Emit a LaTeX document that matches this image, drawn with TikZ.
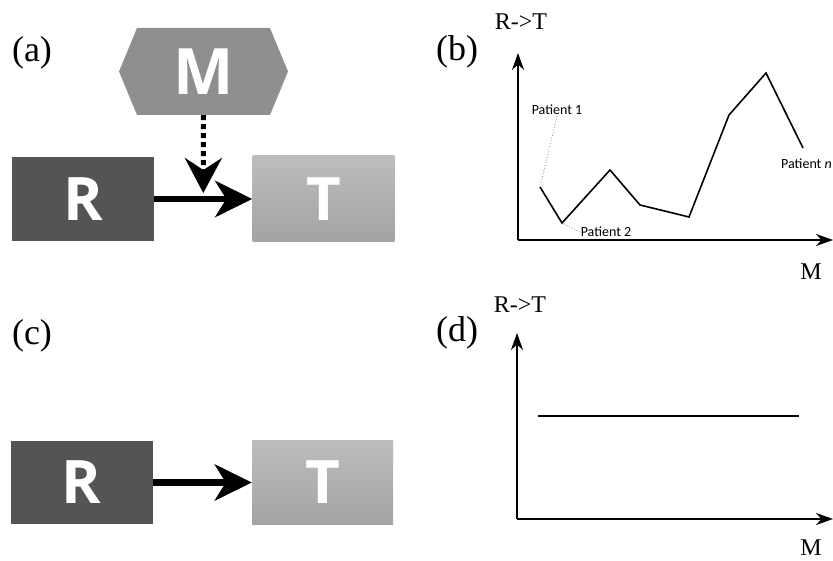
\documentclass[tikz,border=0pt]{standalone}
\usepackage{fontspec}
\setmainfont{Liberation Serif}
\newfontfamily\boxfont{Open Sans}
\newfontfamily\notefont{Carlito}
\usetikzlibrary{calc}
\usetikzlibrary{arrows.meta}
\usetikzlibrary{shapes.symbols}
\usetikzlibrary{positioning}

\definecolor{rdark}{gray}{0.33}
\definecolor{mmid}{gray}{0.56}
\definecolor{tlight}{gray}{0.74}
\definecolor{tdark}{gray}{0.64}

\tikzset{
    box/.style={minimum width=142pt, minimum height=84pt, inner sep=0pt, text=white,
        font=\boxfont\bfseries\fontsize{60}{60}\selectfont},
    rbox/.style={box, fill=rdark},
    tbox/.style={box, top color=tlight, bottom color=tdark},
    hexa/.style={signal, signal to=east and west, signal pointer angle=135, fill=mmid,
        minimum width=169pt, minimum height=87pt, inner sep=0pt, text=white,
        font=\boxfont\bfseries\fontsize{64}{64}\selectfont},
    link/.style={line width=6.5pt, -{Stealth[length=37pt, width=36pt, inset=11pt]}},
    modlink/.style={line width=5pt, dash pattern=on 5pt off 4pt,
        -{Stealth[length=35pt, width=37pt, inset=12pt]}},
    axis/.style={line width=2pt, -{Stealth[length=17pt, width=12pt]}},
    tag/.style={font=\fontsize{36}{36}\selectfont},
    axlabel/.style={font=\fontsize{24}{24}\selectfont},
    note/.style={font=\notefont\fontsize{14}{14}\selectfont, inner sep=1pt},
    leader/.style={gray, line width=0.8pt, dotted},
}

\begin{document}
\begin{tikzpicture}[x=1pt, y=1pt]
        \useasboundingbox (0,0) rectangle (833,560);

        % (a): M moderates R -> T
        \node[tag] (taga) at (32,507.5) {(a)};
        \node[hexa] (Mh) at (203.5,488.5) {M};
        \node[rbox] (Ra) at (83,361) {R};
        \node[tbox, minimum height=86pt] (Ta) at (323.5,361) {T};
        \coordinate (hit) at ($(Ra.east)!0.5!(Ta.west)$);
        \draw[link] (Ra) -- (Ta);
        \draw[modlink, shorten >=6pt] (Mh.south) -- (hit);

        % (c): R -> T alone
        \node[tag] (tagc) at (32,224) {(c)};
        \node[rbox, minimum height=83pt] (Rc) at (81.5,77.5) {R};
        \node[tbox, minimum width=141pt, minimum height=83pt] (Tc) at (322.5,77.5) {T};
        \draw[link] (Rc) -- (Tc);

        % (b): effect changes with M
        \begin{scope}[shift={(518,320)}]
            \draw[axis] (0,0) -- (0,187);
            \draw[axis] (0,0) -- (315,0);
            \node[axlabel] (ylb) at (3,218) {R->T};
            \node[axlabel] (xlb) at (293,-32) {M};
            \node[tag] (tagb) at (-61,188) {(b)};

            % one point per patient
            \draw[line width=1.6pt] (22,53) coordinate (pt1) -- (44,17) coordinate (pt2)
                -- (92,70) -- (122,35) -- (171,23) -- (211,125) -- (248,167)
                -- (285,92) coordinate (ptn);

            \node[note] (p1) at (39,130) {Patient 1};
            \node[note] (p2) at (88,8) {Patient 2};
            \node[note, anchor=west] (pn) at (262,76) {Patient \textit{n}};
            \draw[leader, shorten >=4pt] (p1.south) -- (pt1);
            \draw[leader, shorten >=2pt] (p2.west) -- (pt2);
        \end{scope}

        % (d): effect constant in M
        \begin{scope}[shift={(517,41)}]
            \draw[axis] (0,0) -- (0,186);
            \draw[axis] (0,0) -- (316,0);
            \node[axlabel] (yld) at (3,214) {R->T};
            \node[axlabel] (xld) at (294,-29) {M};
            \node[tag] (tagd) at (-60,186) {(d)};

            \draw[line width=1.5pt] (21,103) -- (282,103);
        \end{scope}

    \end{tikzpicture}
\end{document}
